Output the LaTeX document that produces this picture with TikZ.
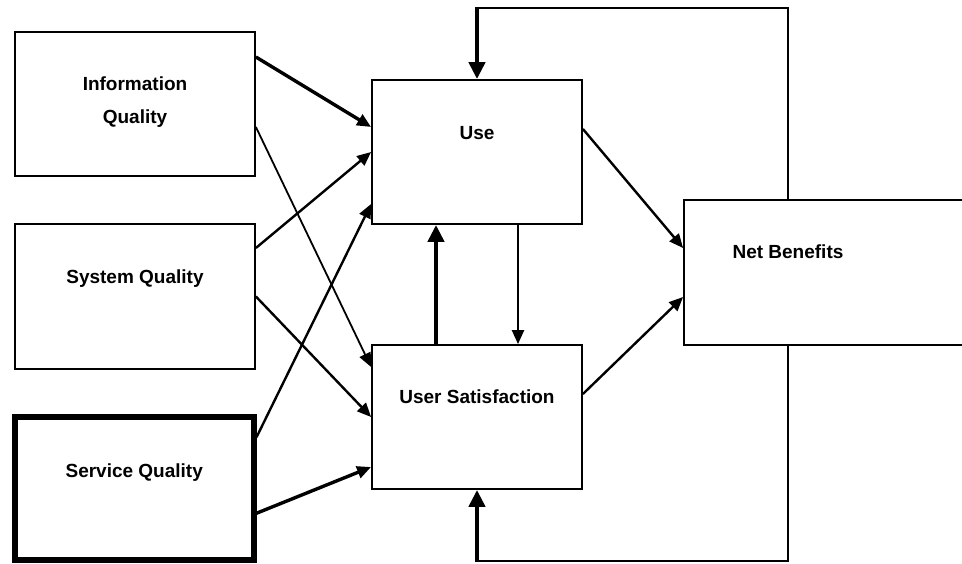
\documentclass[tikz,border=0pt]{standalone}
\usepackage{fontspec}
\setmainfont{Liberation Sans}
\usetikzlibrary{arrows.meta}

\begin{document}
\begin{tikzpicture}[x=1pt, y=-1pt,
  >={Triangle[length=14pt,width=12pt]},
  box/.style={draw, line width=1.8pt, minimum width=240pt, minimum height=144pt, inner sep=0pt},
  midbox/.style={box, minimum width=210pt},
  lbl/.style={font=\bfseries\fontsize{19}{33}\selectfont, align=center, text height=14pt, text depth=0pt},
  link/.style={->, line width=2.4pt},
  thin link/.style={->, line width=1.8pt},
  heavy link/.style={->, line width=3.4pt},
  fat link/.style={-{Triangle[length=17pt,width=16pt]}, line width=4.6pt},
  loop line/.style={line width=1.8pt}
]
  \path[use as bounding box, clip] (0,0) rectangle (962,563);

  % success factors
  \node[box, label={[lbl, yshift=-12pt]center:Information\\Quality}] (iq) at (135,104) {};
  \node[box, minimum height=145pt, label={[lbl, yshift=20pt]center:System Quality}] (sq) at (135,296.5) {};
  \node[box, line width=6pt, minimum width=238.5pt, minimum height=142.5pt,
        label={[lbl, yshift=18pt]center:Service Quality}] (svq) at (134.25,488.25) {};

  % middle boxes
  \node[midbox, label={[lbl, yshift=20pt]center:Use}] (use) at (477,152) {};
  \node[midbox, label={[lbl, yshift=21pt]center:User Satisfaction}] (us) at (477,417) {};

  % right box, runs off the page
  \node[box, minimum width=316pt, minimum height=145pt,
        label={[lbl, xshift=-54pt, yshift=21pt]center:Net Benefits}] (nb) at (842,272.5) {};

  \draw[heavy link] ([yshift=47pt]iq.east) -- ([yshift=25pt]use.west);
  \draw[thin link] ([yshift=-23pt]iq.east) -- ([yshift=50pt]us.west);
  \draw[link] ([yshift=48.5pt]sq.east) -- (use.west);
  \draw[link] (sq.east) -- (us.west);
  \draw[link] ([yshift=51pt]svq.east) -- ([yshift=-52pt]use.west);
  \draw[heavy link] ([yshift=-25pt]svq.east) -- ([yshift=-50pt]us.west);

  \draw[link] ([xshift=41pt]use.south) -- ([xshift=41pt]us.north);
  \draw[fat link] ([xshift=-41pt]us.north) -- ([xshift=-41pt]use.south);

  \draw[link] ([yshift=23pt]use.east) -- ([yshift=24.5pt]nb.west);
  \draw[link] ([yshift=23pt]us.east) -- ([yshift=-24.5pt]nb.west);

  % feedback loops
  \coordinate (top) at (788,8);
  \coordinate (topl) at (477,8);
  \coordinate (bot) at (788,561);
  \coordinate (botl) at (477,561);
  \draw[loop line] ([xshift=-54pt]nb.north) -- (top) -- (topl);
  \draw[fat link] ([yshift=0.9pt]topl) -- (use.north);
  \draw[loop line] ([xshift=-54pt]nb.south) -- (bot) -- (botl);
  \draw[fat link] ([yshift=-0.9pt]botl) -- (us.south);
\end{tikzpicture}
\end{document}
